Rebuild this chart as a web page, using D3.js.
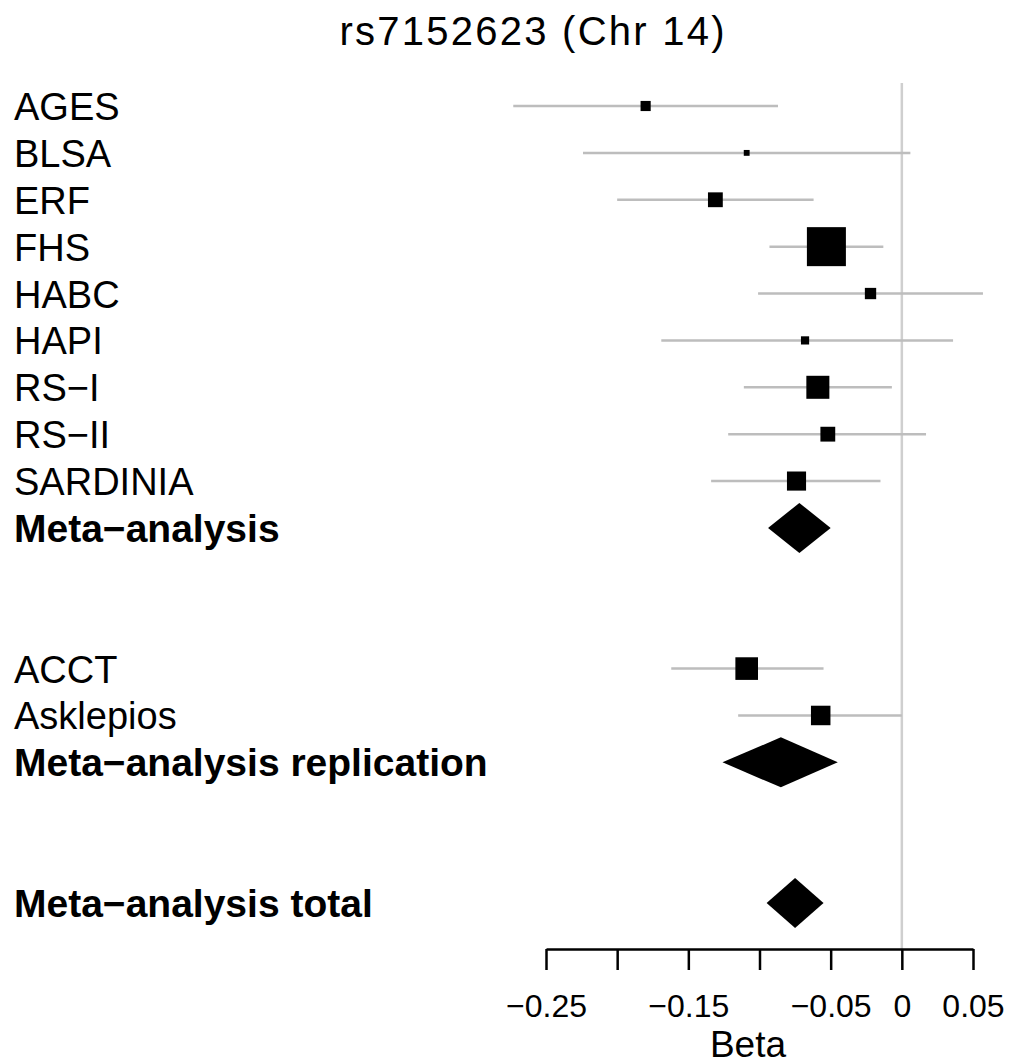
<!DOCTYPE html>
<html>
<head>
<meta charset="utf-8">
<script src="https://cdn.jsdelivr.net/npm/d3@7"></script>
<style>
  html, body { margin: 0; padding: 0; background: #fff; }
  svg { display: block; font-family: "Liberation Sans", Arial, Helvetica, sans-serif; }
</style>
</head>
<body>
<div id="chart"></div>
<script>
// study rows, top to bottom
const studies = ['AGES', 'BLSA', 'ERF', 'FHS', 'HABC', 'HAPI', 'RS\u2212I', 'RS\u2212II', 'SARDINIA',
  'Meta\u2212analysis', 'ACCT', 'Asklepios', 'Meta\u2212analysis replication', 'Meta\u2212analysis total']
const rowIndex = [0, 1, 2, 3, 4, 5, 6, 7, 8, 9, 12, 13, 14, 17]
const beta  = [-0.180, -0.109, -0.131, -0.053, -0.022, -0.068, -0.059, -0.052, -0.074, -0.072, -0.109, -0.057, -0.085, -0.075]
const lower = [-0.273, -0.224, -0.200, -0.093, -0.101, -0.169, -0.111, -0.122, -0.134, -0.094, -0.162, -0.115, -0.126, -0.095]
const upper = [-0.087, 0.006, -0.062, -0.013, 0.057, 0.036, -0.007, 0.017, -0.015, -0.050, -0.055, 0.000, -0.045, -0.055]
// relative box weight (0 = pooled estimate, drawn as diamond)
const weight = [0.26, 0.15, 0.38, 1.00, 0.29, 0.21, 0.59, 0.38, 0.49, 0, 0.58, 0.50, 0, 0]
const summary = [false, false, false, false, false, false, false, false, false, true, false, false, true, true]
const tickValues = [-0.25, -0.2, -0.15, -0.1, -0.05, 0, 0.05]
const tickLabels = ['\u22120.25', '', '\u22120.15', '', '\u22120.05', '0', '0.05']

const width = 1015
const height = 1064

const svg = d3.select('#chart').append('svg')
  .attr('width', width)
  .attr('height', height)

const x = d3.scaleLinear().domain([-0.25, 0.05]).range([546, 973])
const y = d3.scaleLinear().domain([0, 17]).range([106, 903])
const box = d3.scaleLinear().domain([0, 1]).range([0, 39])
const diamondHalf = 25

const rows = studies.map((name, i) => ({
  name, row: rowIndex[i], b: beta[i], lo: lower[i], hi: upper[i], w: weight[i], summary: summary[i]
}))

// title
svg.append('text')
  .attr('x', 532)
  .attr('y', 45)
  .attr('text-anchor', 'middle')
  .attr('font-size', 40)
  .attr('textLength', 385)
  .attr('lengthAdjust', 'spacing')
  .text('rs7152623 (Chr 14)')

// zero reference line
svg.append('line')
  .attr('x1', x(0)).attr('x2', x(0))
  .attr('y1', 83).attr('y2', 949)
  .attr('stroke', '#cfcfcf')
  .attr('stroke-width', 2.5)

// labels
svg.selectAll('.label')
  .data(rows)
  .enter().append('text')
  .attr('class', 'label')
  .attr('x', 14)
  .attr('y', d => y(d.row) + 14)
  .attr('font-size', d => d.summary ? 39 : 38)
  .attr('font-weight', d => d.summary ? 'bold' : 'normal')
  .text(d => d.name)

const single = rows.filter(d => !d.summary)
const pooled = rows.filter(d => d.summary)

// confidence intervals
svg.selectAll('.ci')
  .data(single)
  .enter().append('line')
  .attr('class', 'ci')
  .attr('x1', d => x(d.lo))
  .attr('x2', d => x(d.hi))
  .attr('y1', d => y(d.row))
  .attr('y2', d => y(d.row))
  .attr('stroke', '#bdbdbd')
  .attr('stroke-width', 2.5)

// weighted boxes
svg.selectAll('.box')
  .data(single)
  .enter().append('rect')
  .attr('class', 'box')
  .attr('x', d => x(d.b) - box(d.w) / 2)
  .attr('y', d => y(d.row) - box(d.w) / 2)
  .attr('width', d => box(d.w))
  .attr('height', d => box(d.w))
  .attr('fill', '#000')

// pooled diamonds
svg.selectAll('.diamond')
  .data(pooled)
  .enter().append('path')
  .attr('class', 'diamond')
  .attr('d', d => {
    const cy = y(d.row)
    return `M${x(d.lo)},${cy}L${x(d.b)},${cy - diamondHalf}L${x(d.hi)},${cy}L${x(d.b)},${cy + diamondHalf}Z`
  })
  .attr('fill', '#000')

// x axis
const axis = d3.axisBottom(x)
  .tickValues(tickValues)
  .tickSize(21)
  .tickSizeOuter(0)
  .tickPadding(24)
  .tickFormat((d, i) => tickLabels[i])

const gAxis = svg.append('g')
  .attr('transform', 'translate(0,949)')
  .call(axis)
gAxis.select('.domain').attr('stroke', '#000').attr('stroke-width', 2.5)
gAxis.selectAll('.tick line').attr('stroke', '#000').attr('stroke-width', 2.5)
gAxis.selectAll('.tick text')
  .attr('font-size', 32)
  .attr('fill', '#000')
  .attr('font-family', '"Liberation Sans", Arial, Helvetica, sans-serif')

svg.append('text')
  .attr('x', 748)
  .attr('y', 1057)
  .attr('text-anchor', 'middle')
  .attr('font-size', 37)
  .text('Beta')
</script>
</body>
</html>
